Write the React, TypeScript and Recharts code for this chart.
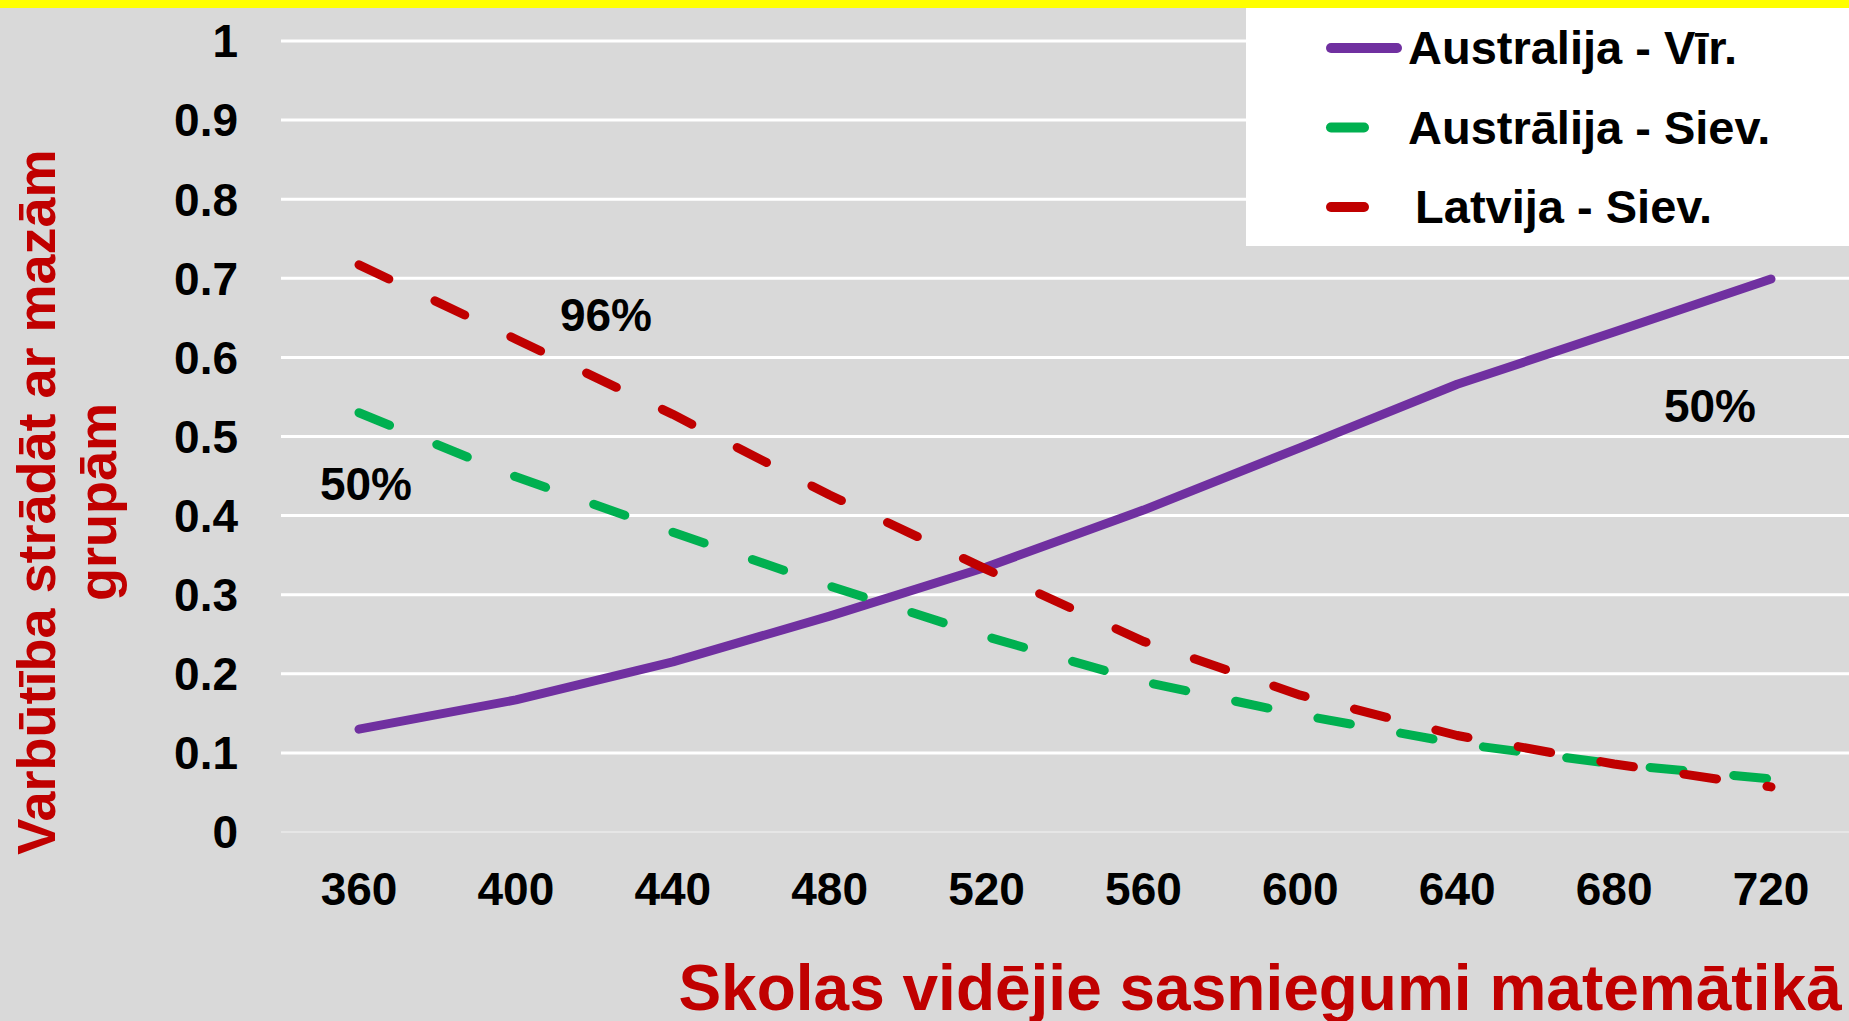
import { CartesianGrid, Legend, Line, LineChart, XAxis, YAxis } from "recharts";

const FONT = '"Liberation Sans", Arial, Helvetica, sans-serif';

// school mean maths score (x categories)
const scores = [360, 400, 440, 480, 520, 560, 600, 640, 680, 720];
const ausMale = [0.13, 0.167, 0.215, 0.273, 0.335, 0.407, 0.486, 0.566, 0.632, 0.699];
const ausFemale = [0.53, 0.449, 0.379, 0.311, 0.247, 0.19, 0.148, 0.112, 0.086, 0.067];
const lvaFemale = [0.717, 0.623, 0.528, 0.426, 0.332, 0.241, 0.173, 0.122, 0.086, 0.057];
const yTicks = [0, 0.1, 0.2, 0.3, 0.4, 0.5, 0.6, 0.7, 0.8, 0.9, 1];
const seriesNames = ["Australija - Vīr.", "Austrālija - Siev.", " Latvija - Siev."];
const notes = ["96%", "50%", "50%"];
const xTitle = "Skolas vidējie sasniegumi matemātikā";
const yTitle = ["Varbūtība strādāt ar mazām", "grupām"];

const data = scores.map((s, i) => ({
  score: s,
  ausMale: ausMale[i],
  ausFemale: ausFemale[i],
  lvaFemale: lvaFemale[i],
}));

const series = [
  { key: "ausMale", color: "#7030A0", dash: undefined, sample: 74 },
  { key: "ausFemale", color: "#00B050", dash: "33 51", sample: 41 },
  { key: "lvaFemale", color: "#C00000", dash: "33 51", sample: 41 },
];

const LegendBox = () => (
  <svg width={603} height={238} style={{ display: "block", background: "#fff" }}>
    {series.map((s, i) => {
      const cy = 40 + i * 79.5;
      return (
        <g key={s.key}>
          <line
            x1={85}
            x2={81 + s.sample - 4}
            y1={cy}
            y2={cy}
            stroke={s.color}
            strokeWidth={10}
            strokeLinecap="round"
          />
          <text
            x={i === 2 ? 156 : 162}
            y={cy + 16}
            fontFamily={FONT}
            fontWeight={700}
            fontSize={47}
            fill="#000"
            style={{ whiteSpace: "pre" }}
          >
            {seriesNames[i]}
          </text>
        </g>
      );
    })}
  </svg>
);

const App = () => {
  const noteSpots = [
    { x: 606, y: 314 },
    { x: 366, y: 483 },
    { x: 1710, y: 405 },
  ];
  return (
    <div
      style={{
        position: "absolute",
        left: 0,
        top: 0,
        width: 1849,
        height: 1021,
        background: "#D9D9D9",
        overflow: "hidden",
      }}
    >
      <LineChart
        width={1849}
        height={1021}
        data={data}
        margin={{ top: 41, right: 0, bottom: 0, left: 0 }}
      >
        <CartesianGrid
          vertical={false}
          stroke="#FFFFFF"
          strokeWidth={3}
          horizontalValues={yTicks.slice(1)}
        />
        <XAxis
          dataKey="score"
          type="category"
          height={189}
          interval={0}
          padding={{ left: 78, right: 78 }}
          tickLine={false}
          tickSize={0}
          tickMargin={40}
          axisLine={{ stroke: "#E6E6E6", strokeWidth: 2 }}
          tick={{ fill: "#000", fontSize: 46, fontWeight: 700, fontFamily: FONT }}
        />
        <YAxis
          type="number"
          domain={[0, 1]}
          ticks={yTicks}
          width={281}
          axisLine={false}
          tickLine={false}
          tickSize={0}
          tickMargin={43}
          tick={{ fill: "#000", fontSize: 46, fontWeight: 700, fontFamily: FONT }}
        />
        <Legend
          layout="vertical"
          align="center"
          verticalAlign="middle"
          content={() => <LegendBox />}
          wrapperStyle={{ left: 1246, top: 8, width: 603, height: 238 }}
        />
        {series.map((s) => (
          <Line
            key={s.key}
            type="linear"
            dataKey={s.key}
            stroke={s.color}
            strokeWidth={9}
            strokeDasharray={s.dash}
            strokeLinecap="round"
            strokeLinejoin="round"
            dot={false}
            activeDot={false}
            isAnimationActive={false}
          />
        ))}
      </LineChart>

      <svg
        width={1849}
        height={1021}
        style={{ position: "absolute", left: 0, top: 0, pointerEvents: "none" }}
      >
        <rect x={0} y={0} width={1849} height={8} fill="#FFFF00" />
        {notes.map((n, i) => (
          <text
            key={i}
            x={noteSpots[i].x}
            y={noteSpots[i].y + 16.5}
            textAnchor="middle"
            fontFamily={FONT}
            fontWeight={700}
            fontSize={46}
            fill="#000"
          >
            {n}
          </text>
        ))}
        <text
          x={1260}
          y={1010}
          textAnchor="middle"
          fontFamily={FONT}
          fontWeight={700}
          fontSize={64}
          fill="#C00000"
        >
          {xTitle}
        </text>
        {yTitle.map((line, i) => (
          <text
            key={i}
            transform={`translate(${55 + i * 61}, 502) rotate(-90)`}
            textAnchor="middle"
            fontFamily={FONT}
            fontWeight={700}
            fontSize={54}
            fill="#C00000"
          >
            {line}
          </text>
        ))}
      </svg>
    </div>
  );
};

export default App;
